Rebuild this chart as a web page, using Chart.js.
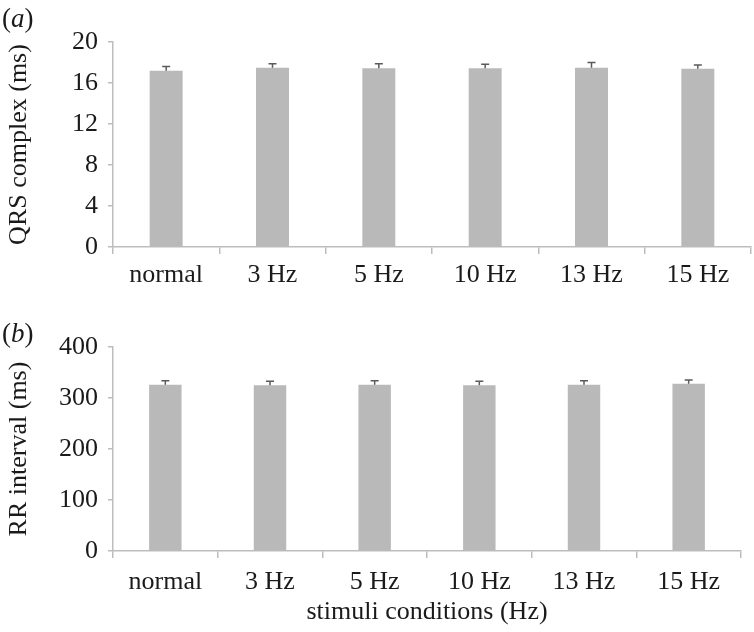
<!DOCTYPE html>
<html>
<head>
<meta charset="utf-8">
<script src="https://cdn.jsdelivr.net/npm/chart.js@4.4.0/dist/chart.umd.min.js"></script>
<style>
  body { margin: 0; background: #fff; }
  #wrap { position: relative; width: 754px; height: 632px; }
  canvas { position: absolute; left: 0; }
  #chartA { top: 0; }
  #chartB { top: 300px; }
  .panel { position: absolute; left: 2px; font: 27px "Liberation Serif", serif; color: #1a1a1a; line-height: 30px; }
</style>
</head>
<body>
<div id="wrap">
  <canvas id="chartA" width="754" height="300"></canvas>
  <canvas id="chartB" width="754" height="332"></canvas>
  <div class="panel" style="top:3px">(<i>a</i>)</div>
  <div class="panel" style="top:318px">(<i>b</i>)</div>
</div>
<script>
const conditions = ['normal', '3 Hz', '5 Hz', '10 Hz', '13 Hz', '15 Hz'];
const qrsMean = [17.2, 17.5, 17.45, 17.45, 17.5, 17.4];
const qrsErr = [0.42, 0.38, 0.42, 0.38, 0.5, 0.36];
const rrMean = [326, 325, 326, 325, 326, 328];
const rrErr = [8, 8, 8, 8, 8, 7.5];

const textColor = '#1a1a1a';
const axisColor = '#bdbdbd';
const barColor = '#b9b9b9';
const serif = '"Liberation Serif", serif';

// draws upward error bars from the dataset's own scale
const errorBars = {
  id: 'errorBars',
  afterDatasetsDraw(chart) {
    const errs = chart.options.plugins.errorBars.values;
    const meta = chart.getDatasetMeta(0);
    const y = chart.scales.y;
    const ctx = chart.ctx;
    ctx.save();
    ctx.strokeStyle = '#5a5a5a';
    ctx.lineWidth = 1.5;
    meta.data.forEach((bar, i) => {
      const v = chart.data.datasets[0].data[i];
      const top = y.getPixelForValue(v + errs[i]);
      ctx.beginPath();
      ctx.moveTo(bar.x, bar.y);
      ctx.lineTo(bar.x, top);
      ctx.moveTo(bar.x - 4, top);
      ctx.lineTo(bar.x + 4, top);
      ctx.stroke();
    });
    ctx.restore();
  }
};

function makeChart(id, values, errs, yMax, yStep, yTitle, xTitle, pad, yWidth, xHeight, tickPad) {
  return new Chart(document.getElementById(id), {
    type: 'bar',
    data: {
      labels: conditions,
      datasets: [{
        data: values,
        backgroundColor: barColor,
        borderWidth: 0,
        barPercentage: 0.31,
        categoryPercentage: 1
      }]
    },
    options: {
      responsive: false,
      animation: false,
      events: [],
      layout: { padding: pad },
      plugins: {
        legend: { display: false },
        tooltip: { enabled: false },
        errorBars: { values: errs }
      },
      scales: {
        x: {
          grid: { display: true, drawOnChartArea: false, offset: true, color: axisColor, tickLength: 7, lineWidth: 1.5 },
          border: { color: axisColor, width: 1.5 },
          ticks: { color: textColor, font: { family: serif, size: 26 }, padding: tickPad, maxRotation: 0 },
          title: { display: !!xTitle, text: xTitle, color: textColor, font: { family: serif, size: 26 }, padding: { top: 0, bottom: 4 } },
          afterFit(s) { s.height = xHeight; }
        },
        y: {
          min: 0,
          max: yMax,
          grid: { display: true, drawOnChartArea: false, color: axisColor, tickLength: 5, lineWidth: 1.5 },
          border: { color: axisColor, width: 1.5 },
          ticks: { stepSize: yStep, color: textColor, font: { family: serif, size: 26 }, padding: 10 },
          title: { display: true, text: yTitle, color: textColor, font: { family: serif, size: 26 }, padding: { top: 4, bottom: 4 } },
          afterFit(s) { s.width = yWidth; }
        }
      }
    },
    plugins: [errorBars]
  });
}

makeChart('chartA', qrsMean, qrsErr, 20, 4, 'QRS complex (ms)', '', { top: 42, right: 3, bottom: 0, left: 0 }, 113, 53, 6);
makeChart('chartB', rrMean, rrErr, 400, 100, 'RR interval (ms)', 'stimuli conditions (Hz)', { top: 47, right: 13, bottom: 0, left: 0 }, 113, 81, 9);
</script>
</body>
</html>
